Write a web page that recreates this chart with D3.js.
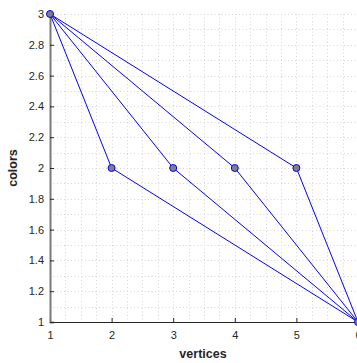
<!DOCTYPE html>
<html>
<head>
<meta charset="utf-8">
<script src="https://cdn.jsdelivr.net/npm/d3@7"></script>
<style>
  body { margin: 0; background: #fff; }
  svg { display: block; font-family: "Liberation Sans", Arial, sans-serif; }
</style>
</head>
<body>
<div id="chart"></div>
<script>
// graph vertices: x = vertex index, y = colour assigned
const vertices = [1, 2, 3, 4, 5, 6];
const colors = [3, 2, 2, 2, 2, 1];
// edges as pairs of vertex indices (0-based)
const edges = [[0, 1], [0, 2], [0, 3], [0, 4], [1, 5], [2, 5], [3, 5], [4, 5]];
const xTicks = [1, 2, 3, 4, 5, 6];
const yTicks = [1, 1.2, 1.4, 1.6, 1.8, 2, 2.2, 2.4, 2.6, 2.8, 3];

const W = 357, H = 363;
const pLeft = 50, pRight = 358, pTop = 14, pBottom = 322;

const svg = d3.select("#chart").append("svg")
    .attr("width", W)
    .attr("height", H);

const x = d3.scaleLinear().domain([1, 6]).range([pLeft, pRight]);
const y = d3.scaleLinear().domain([1, 3]).range([pBottom, pTop]);

// grid, major and minor look the same here
const grid = svg.append("g")
    .attr("stroke", "#d6d6d6")
    .attr("stroke-width", 1)
    .attr("stroke-dasharray", "1,2.5");

grid.selectAll("line.gx")
    .data(d3.range(1.25, 6.01, 0.25))
    .join("line")
    .attr("class", "gx")
    .attr("x1", d => Math.round(x(d)) + 0.5)
    .attr("x2", d => Math.round(x(d)) + 0.5)
    .attr("y1", pTop)
    .attr("y2", pBottom);

grid.selectAll("line.gy")
    .data(d3.range(1.1, 3.01, 0.1))
    .join("line")
    .attr("class", "gy")
    .attr("y1", d => Math.round(y(d)) + 0.5)
    .attr("y2", d => Math.round(y(d)) + 0.5)
    .attr("x1", pLeft)
    .attr("x2", pRight);

// axes
const xAxis = svg.append("g")
    .attr("transform", "translate(0," + pBottom + ")")
    .call(d3.axisBottom(x).tickValues(xTicks).tickSize(-4).tickPadding(9).tickFormat(d3.format("d")));
const yAxis = svg.append("g")
    .attr("transform", "translate(" + pLeft + ",0)")
    .call(d3.axisLeft(y).tickValues(yTicks).tickSize(-4).tickPadding(6).tickFormat(d => d3.format("~g")(d)));

xAxis.select(".domain").attr("stroke", "#262626").attr("stroke-width", 1.2);
yAxis.select(".domain").attr("stroke", "#7a7a7a").attr("stroke-width", 2);
[xAxis, yAxis].forEach(a => {
    a.selectAll(".tick line").attr("stroke", "#262626");
    a.selectAll("text")
        .attr("font-size", 11)
        .attr("font-family", "Liberation Sans, Arial, sans-serif")
        .attr("fill", "#262626");
});

// edges
svg.append("g")
    .selectAll("line")
    .data(edges)
    .join("line")
    .attr("x1", d => x(vertices[d[0]]))
    .attr("y1", d => y(colors[d[0]]))
    .attr("x2", d => x(vertices[d[1]]))
    .attr("y2", d => y(colors[d[1]]))
    .attr("stroke", "#0000ff")
    .attr("stroke-width", 1);

// vertex markers
svg.append("g")
    .selectAll("circle")
    .data(vertices)
    .join("circle")
    .attr("cx", d => x(d))
    .attr("cy", (d, i) => y(colors[i]))
    .attr("r", 3.5)
    .attr("fill", "#808080")
    .attr("stroke", "#0000ff")
    .attr("stroke-width", 1);

// labels
svg.append("text")
    .attr("x", 203)
    .attr("y", 358)
    .attr("text-anchor", "middle")
    .attr("font-size", 12.5)
    .attr("font-weight", "bold")
    .attr("fill", "#262626")
    .text("vertices");

svg.append("text")
    .attr("transform", "translate(17,168) rotate(-90)")
    .attr("text-anchor", "middle")
    .attr("font-size", 12.5)
    .attr("font-weight", "bold")
    .attr("fill", "#262626")
    .text("colors");
</script>
</body>
</html>
